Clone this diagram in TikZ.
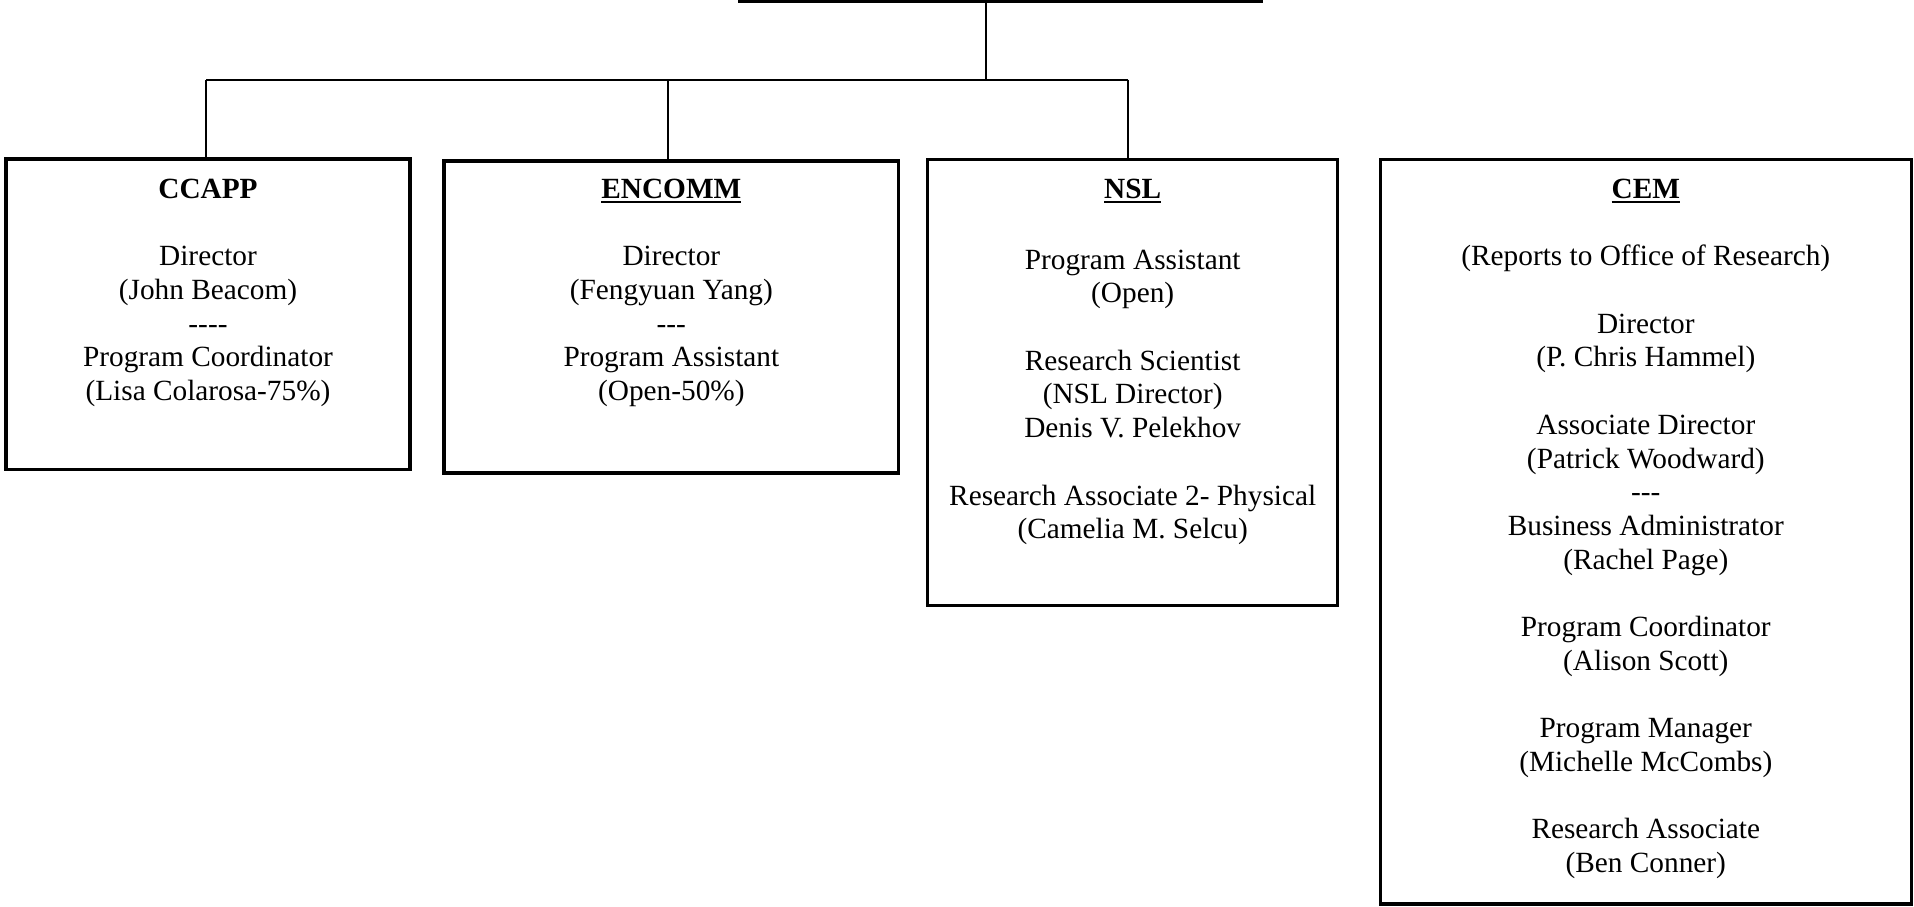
\documentclass[tikz,border=0pt]{standalone}
\usepackage{fontspec}
\setmainfont{Liberation Serif}
\newcommand\myul[1]{\setbox0\hbox{#1}\rlap{\rule[-2.4pt]{\wd0}{1.2pt}}\box0}
\newcommand\dsh{\mbox{-}}
\begin{document}
\begin{tikzpicture}[x=0.5pt,y=-0.5pt,
  box/.style={draw, line width=1.75pt, inner sep=0pt, rectangle},
  conn/.style={draw, line width=1pt},
  txt/.style={anchor=north, inner sep=0pt, align=center, font=\fontsize{14.65}{16.85}\selectfont}]
\useasboundingbox (0,0) rectangle (1914,906);
% boxes
\node[box, minimum width=260.75pt, minimum height=50.85pt] (top) at (1000.75,-49.15) {};
\node[box, minimum width=202.2pt, minimum height=155.15pt] (ccapp) at (208,314.35) {};
\node[box, minimum width=227.15pt, minimum height=156pt] (encomm) at (671.35,317) {};
\node[box, minimum width=205pt, minimum height=223.1pt] (nsl) at (1132.7,382.4) {};
\node[box, minimum width=265.5pt, minimum height=372.45pt] (cem) at (1645.8,531.75) {};
% texts
\node[txt] (ccappT) at (208,174.4) {\strut\textbf{CCAPP}\\[16.85pt]
Director\\(John Beacom)\\\dsh\dsh\dsh\dsh\\Program Coordinator\\(Lisa Colarosa-75\%)};
\node[txt] (encommT) at (671.35,174.4) {\strut\myul{\textbf{ENCOMM}}\\[16.85pt]
Director\\(Fengyuan Yang)\\\dsh\dsh\dsh\\Program Assistant\\(Open-50\%)};
\node[txt] (nslT) at (1132.7,174.4) {\strut\myul{\textbf{NSL}}\\[18.5pt]
Program Assistant\\(Open)\\[16.85pt]
Research Scientist\\(NSL Director)\\Denis V. Pelekhov\\[16.85pt]
Research Associate 2- Physical\\(Camelia M. Selcu)};
\node[txt] (cemT) at (1645.8,174.4) {\strut\myul{\textbf{CEM}}\\[16.85pt]
(Reports to Office of Research)\\[16.85pt]
Director\\(P. Chris Hammel)\\[16.85pt]
Associate Director\\(Patrick Woodward)\\\dsh\dsh\dsh\\Business Administrator\\(Rachel Page)\\[16.85pt]
Program Coordinator\\(Alison Scott)\\[16.85pt]
Program Manager\\(Michelle McCombs)\\[16.85pt]
Research Associate\\(Ben Conner)};
% connectors
\coordinate (bus) at (986,79.5);
\coordinate (busL) at (206,79.5);
\coordinate (busM) at (668,79.5);
\coordinate (busR) at (1128,79.5);
\draw[conn] (top.south -| bus) -- (bus);
\draw[conn] (busL) -- (busR);
\draw[conn] (busL) -- (busL |- ccapp.north);
\draw[conn] (busM) -- (busM |- encomm.north);
\draw[conn] (busR) -- (busR |- nsl.north);
\end{tikzpicture}
\end{document}
